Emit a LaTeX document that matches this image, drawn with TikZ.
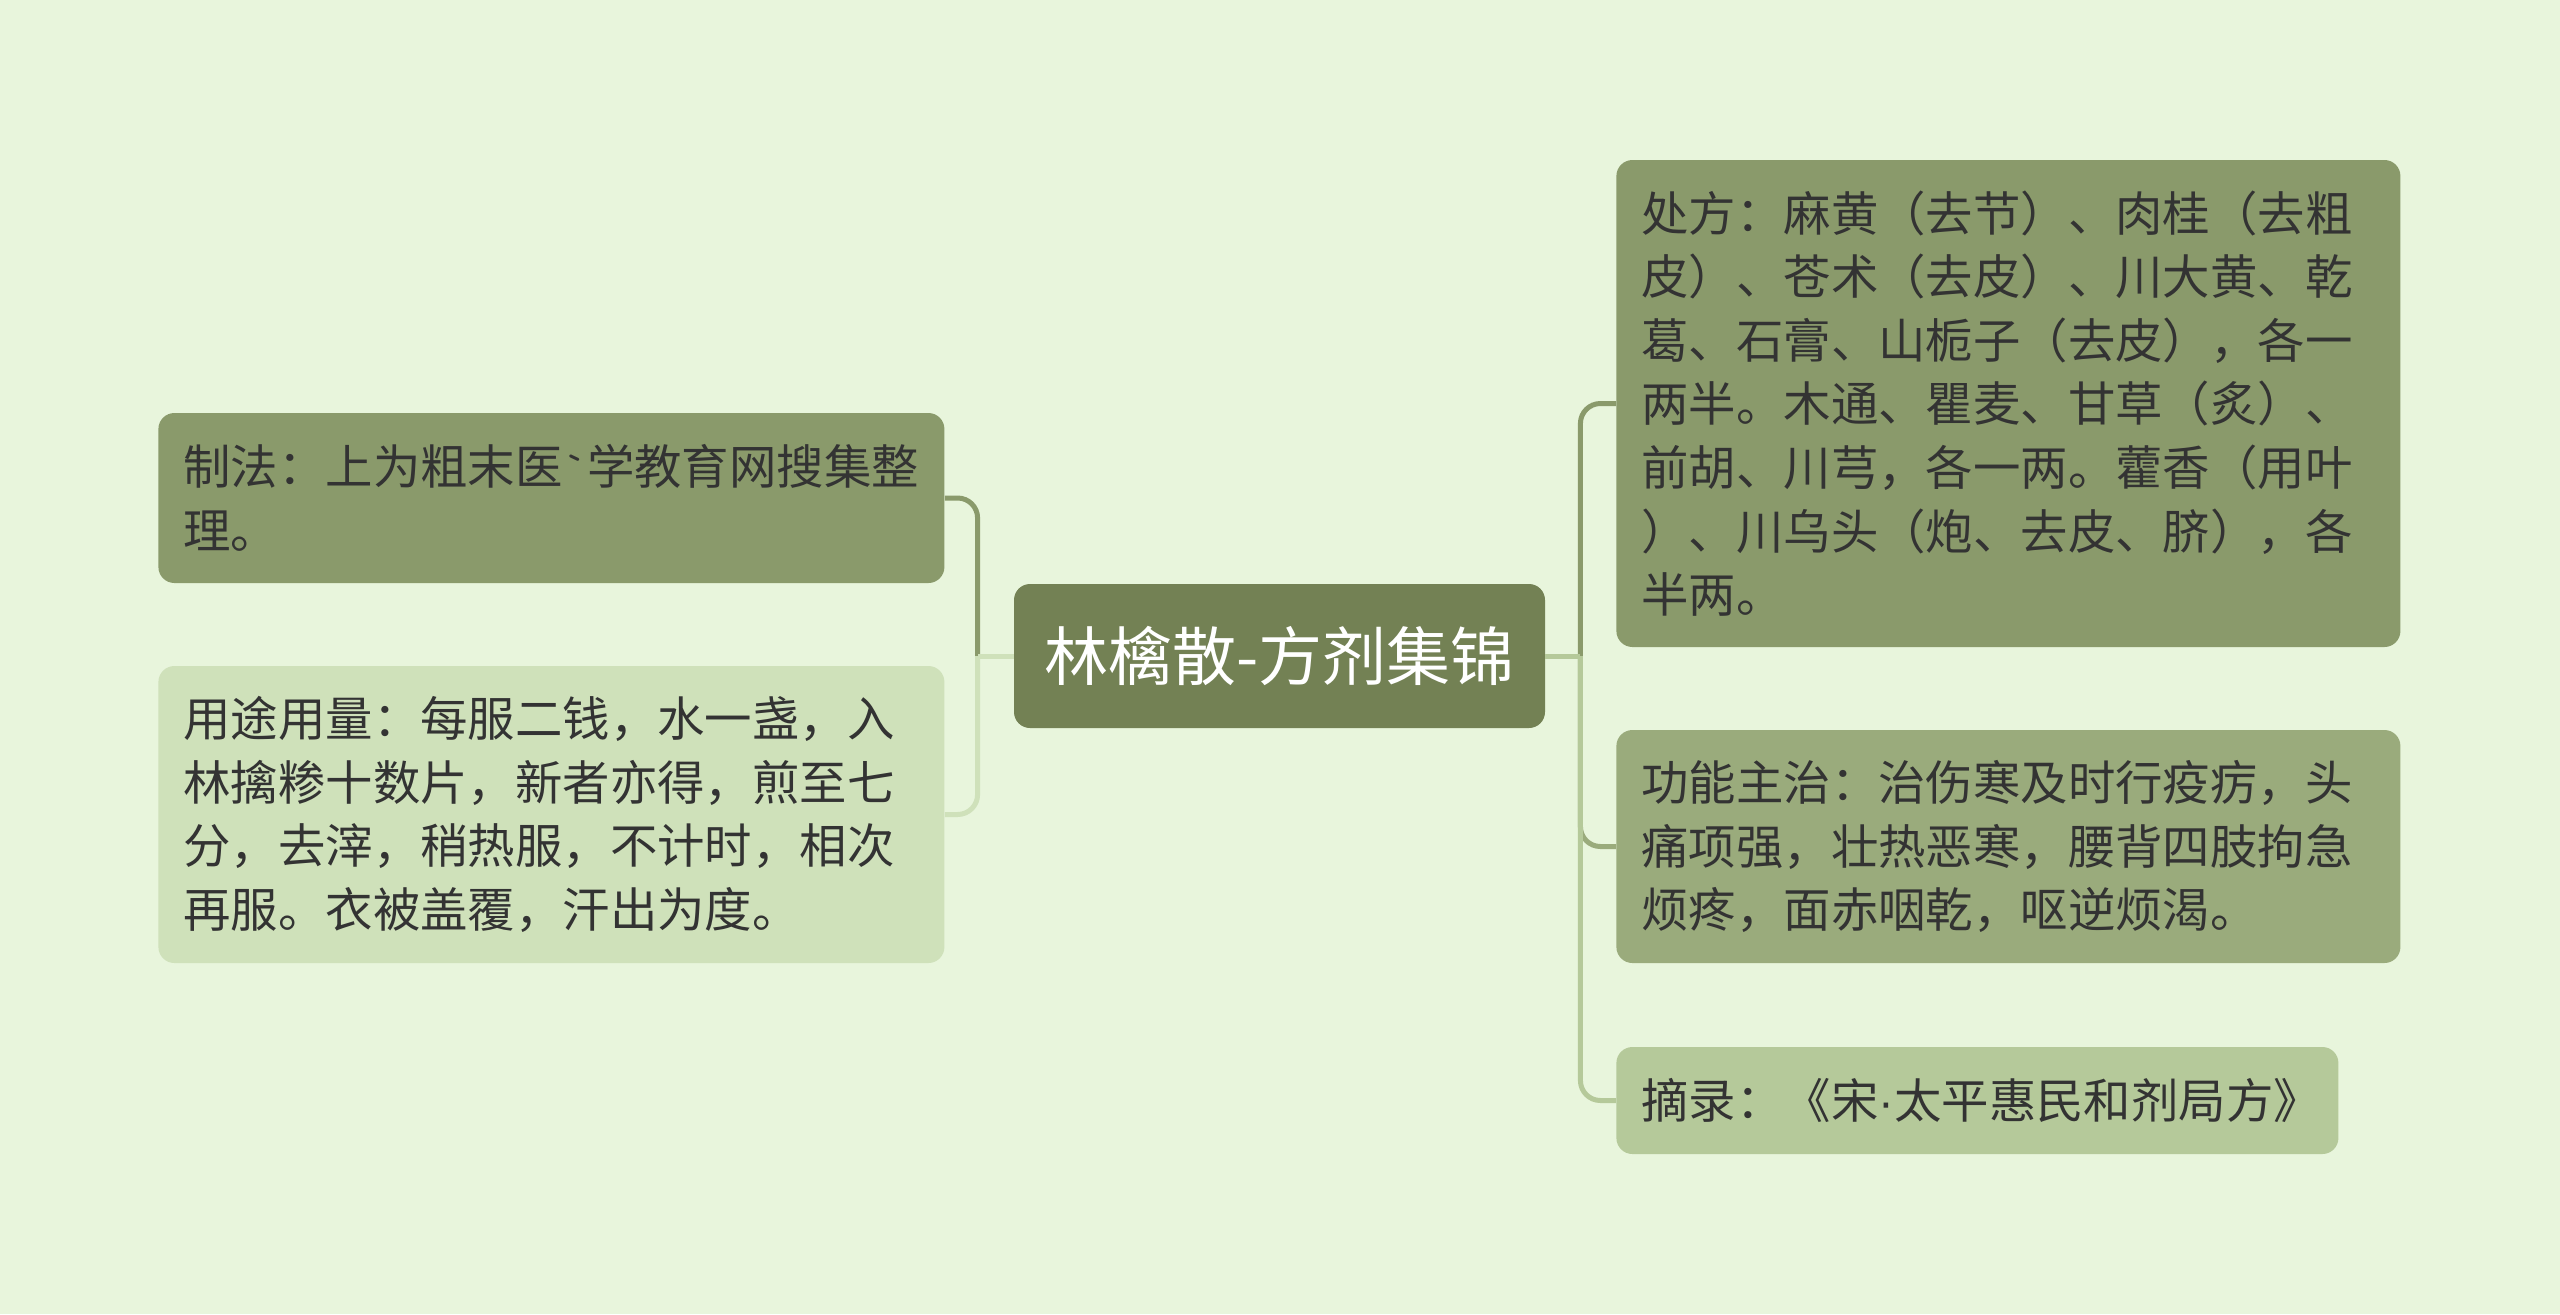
\documentclass[tikz,border=0pt]{standalone}
\usepackage{fontspec}
\setmainfont{Noto Sans CJK SC}
\newfontfamily\latinfont{Liberation Sans}
\definecolor{bgcol}{HTML}{E8F5DC}
\definecolor{topiccol}{HTML}{738154}
\definecolor{darkleaf}{HTML}{8A9A6B}
\definecolor{midleaf}{HTML}{9AAB7C}
\definecolor{paleleaf}{HTML}{B5C99A}
\definecolor{lightleaf}{HTML}{CFE1BA}
\definecolor{txtcol}{HTML}{333333}
\tikzset{
  topic/.style={fill=topiccol,rounded corners=8pt,text=white,font=\fontsize{32}{40}\selectfont,
    minimum width=265.5pt,minimum height=72pt,inner sep=0pt},
  leaf/.style={rounded corners=8pt,text=txtcol,font=\fontsize{23.7}{31.8}\selectfont,
    align=left,inner xsep=12.5pt,inner ysep=0pt},
  link/.style={line width=2.5pt,rounded corners=10pt}
}
\begin{document}
\begin{tikzpicture}[x=0.5pt,y=-0.5pt]
  \fill [bgcol] (0,0) rectangle (2560,1314);
  \node [topic] (ctr) at (1279.5,656) {林檎散-方剂集锦};
  \node [leaf,anchor=west,fill=darkleaf,text width=368pt,minimum height=85pt] (zhifa) at (158,498)
    {制法：上为粗末医{\ttfamily`}学教育网搜集整\\理。};
  \node [leaf,anchor=west,fill=lightleaf,text width=368pt,minimum height=148.5pt] (yongtu) at (158,814.5)
    {用途用量：每服二钱，水一盏，入\\林擒糁十数片，新者亦得，煎至七\\分，去滓，稍热服，不计时，相次\\再服。衣被盖覆，汗出为度。};
  \node [leaf,anchor=west,fill=darkleaf,text width=367pt,minimum height=243.5pt] (chufang) at (1616,403.5)
    {处方：麻黄（去节）、肉桂（去粗\\皮）、苍术（去皮）、川大黄、乾\\葛、石膏、山栀子（去皮），各一\\两半。木通、瞿麦、甘草（炙）、\\前胡、川芎，各一两。藿香（用叶\\）、川乌头（炮、去皮、脐），各\\半两。};
  \node [leaf,anchor=west,fill=midleaf,text width=367pt,minimum height=116.5pt] (gongneng) at (1616,846.5)
    {功能主治：治伤寒及时行疫疠，头\\痛项强，壮热恶寒，腰背四肢拘急\\烦疼，面赤咽乾，呕逆烦渴。};
  \node [leaf,anchor=west,fill=paleleaf,text width=336pt,minimum height=53.5pt] (zhailu) at (1616,1100.5)
    {摘录：《宋{\latinfont ·}太平惠民和剂局方》};
  \path (ctr.west) ++(-36,0) coordinate (lj);
  \path (ctr.east) ++(35,0) coordinate (rj);
  \draw [link,darkleaf] (lj) |- (zhifa.east);
  \draw [link,lightleaf] (lj) |- (yongtu.east);
  \draw [link,lightleaf] (ctr.west) -- (lj);
  \draw [link,darkleaf] (rj) |- (chufang.west);
  \draw [link,midleaf] (rj) |- (gongneng.west);
  \draw [link,paleleaf] (rj) |- (zhailu.west);
  \draw [link,paleleaf] (ctr.east) -- (rj);
\end{tikzpicture}
\end{document}
